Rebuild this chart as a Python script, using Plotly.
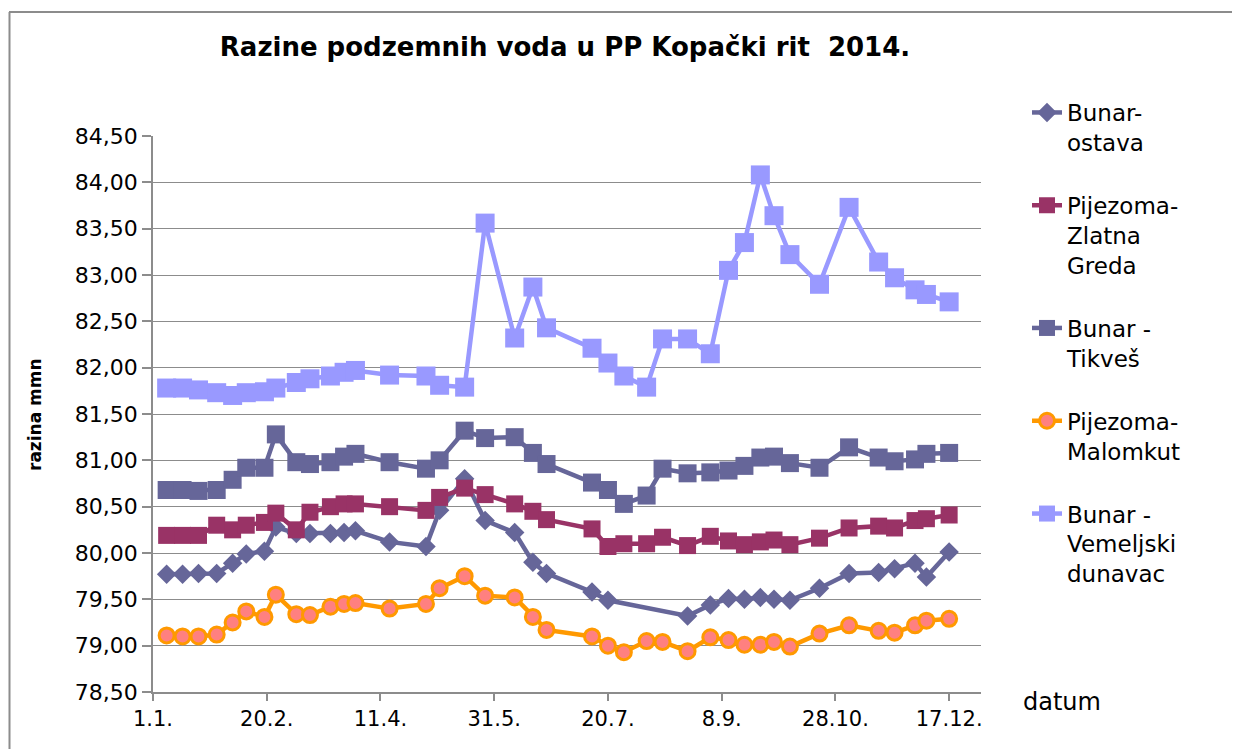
import plotly.graph_objects as go

# Measurement dates (2014)
dates = ["2014-01-07", "2014-01-14", "2014-01-21", "2014-01-29", "2014-02-05", "2014-02-11",
         "2014-02-19", "2014-02-24", "2014-03-05", "2014-03-11", "2014-03-20", "2014-03-26",
         "2014-03-31", "2014-04-15", "2014-05-01", "2014-05-07", "2014-05-18", "2014-05-27",
         "2014-06-09", "2014-06-17", "2014-06-23", "2014-07-13", "2014-07-20", "2014-07-27",
         "2014-08-06", "2014-08-13", "2014-08-24", "2014-09-03", "2014-09-11", "2014-09-18",
         "2014-09-25", "2014-10-01", "2014-10-08", "2014-10-21", "2014-11-03", "2014-11-16",
         "2014-11-23", "2014-12-02", "2014-12-07", "2014-12-17"]

bunar_ostava = [79.77, 79.77, 79.78, 79.78, 79.89, 79.99, 80.02, 80.28, 80.21, 80.21,
                80.21, 80.22, 80.24, 80.12, 80.07, 80.46, 80.80, 80.35, 80.22, 79.90,
                79.78, 79.58, 79.49, None, None, None, 79.32, 79.44, 79.51, 79.50,
                79.52, 79.50, 79.49, 79.62, 79.78, 79.79, 79.83, 79.89, 79.74, 80.01]

zlatna_greda = [80.19, 80.19, 80.19, 80.30, 80.25, 80.30, 80.33, 80.43, 80.25, 80.44,
                80.50, 80.53, 80.53, 80.50, 80.46, 80.60, 80.70, 80.63, 80.53, 80.45,
                80.36, 80.26, 80.07, 80.10, 80.10, 80.17, 80.08, 80.18, 80.13, 80.09,
                80.12, 80.14, 80.09, 80.16, 80.27, 80.29, 80.27, 80.35, 80.37, 80.41]

tikves = [80.68, 80.68, 80.67, 80.68, 80.79, 80.92, 80.92, 81.28, 80.98, 80.96,
          80.98, 81.04, 81.07, 80.98, 80.91, 81.00, 81.32, 81.24, 81.25, 81.08,
          80.96, 80.76, 80.68, 80.53, 80.62, 80.91, 80.86, 80.87, 80.89, 80.94,
          81.03, 81.04, 80.97, 80.92, 81.14, 81.03, 80.99, 81.01, 81.07, 81.08]

malomkut = [79.11, 79.10, 79.10, 79.12, 79.25, 79.37, 79.31, 79.55, 79.34, 79.33,
            79.42, 79.45, 79.46, 79.40, 79.45, 79.62, 79.75, 79.54, 79.52, 79.31,
            79.17, 79.10, 79.00, 78.93, 79.05, 79.04, 78.94, 79.09, 79.06, 79.01,
            79.01, 79.04, 78.99, 79.13, 79.22, 79.16, 79.14, 79.22, 79.27, 79.29]

vemeljski = [81.78, 81.78, 81.76, 81.73, 81.70, 81.73, 81.74, 81.78, 81.84, 81.88,
             81.91, 81.95, 81.97, 81.92, 81.91, 81.81, 81.79, 83.56, 82.32, 82.87,
             82.43, 82.21, 82.05, 81.91, 81.79, 82.31, 82.31, 82.15, 83.05, 83.35,
             84.08, 83.64, 83.22, 82.90, 83.73, 83.14, 82.97, 82.84, 82.79, 82.71]

series_names = ["Bunar-<br>ostava", "Pijezoma-<br>Zlatna<br>Greda", "Bunar -<br>Tikveš",
                "Pijezoma-<br>Malomkut", "Bunar -<br>Vemeljski<br>dunavac"]

tick_dates = ["2014-01-01", "2014-02-20", "2014-04-11", "2014-05-31",
              "2014-07-20", "2014-09-08", "2014-10-28", "2014-12-17"]
tick_labels = ["1.1.", "20.2.", "11.4.", "31.5.", "20.7.", "8.9.", "28.10.", "17.12."]

FONT = "DejaVu Sans"
OFF = 8  # page body margin of the browser
W, H = 1240 - OFF, 749 - OFF
PL, PR, PT, PB = 153 - OFF, 981 - OFF, 136 - OFF, 692 - OFF  # plot area (page pixels minus offset)
PW, PH = PR - PL, PB - PT

fig = go.Figure()
styles = [
    (bunar_ostava, dict(color="#666699", width=4.5), dict(symbol="diamond", size=15, color="#666699")),
    (zlatna_greda, dict(color="#993366", width=4.5), dict(symbol="square", size=17, color="#993366")),
    (tikves, dict(color="#666699", width=4.5), dict(symbol="square", size=18, color="#666699")),
    (malomkut, dict(color="#FF9900", width=4.5),
     dict(symbol="circle", size=15, color="#FF8080", line=dict(color="#FF9900", width=3))),
    (vemeljski, dict(color="#9999FF", width=4.5), dict(symbol="square", size=19, color="#9999FF")),
]
for i, (vals, line, marker) in enumerate(styles):
    fig.add_trace(go.Scatter(
        x=dates, y=vals, mode="lines+markers", name=series_names[i],
        line=line, marker=marker, connectgaps=True, legendgroup=f"g{i}",
    ))

def cx(px):
    return (px - OFF) / W

def cy(py):
    return 1 - (py - OFF) / H

def ppx(px):
    return (px - OFF - PL) / PW

def ppy(py):
    return (PB - (py - OFF)) / PH

fig.update_layout(
    width=W, height=H,
    margin=dict(l=PL, r=W - PR, t=PT, b=H - PB, autoexpand=False),
    paper_bgcolor="white", plot_bgcolor="white",
    separators=", ",
    font=dict(family=FONT, color="black"),
    title=dict(text="<b>Razine podzemnih voda u PP Kopački rit  2014.</b>",
               xref="container", yref="container",
               x=cx(565), xanchor="center", y=cy(47), yanchor="middle",
               font=dict(size=26, family=FONT, color="black")),
    showlegend=True,
    legend=dict(xref="container", yref="container",
                x=cx(1027), xanchor="left", y=cy(91), yanchor="top",
                font=dict(size=23, family=FONT, color="black"),
                valign="top", tracegroupgap=30, traceorder="grouped",
                maxheight=700, bgcolor="rgba(0,0,0,0)"),
    xaxis=dict(type="date", range=["2014-01-01", "2014-12-31"],
               tickvals=tick_dates, ticktext=tick_labels, automargin=False,
               showgrid=False, showline=True, linecolor="#8c8c8c", linewidth=1.5,
               ticks="outside", ticklen=7, tickcolor="#8c8c8c", tickwidth=1.5,
               tickfont=dict(size=21, family=FONT, color="black"), zeroline=False),
    yaxis=dict(range=[78.5, 84.5], dtick=0.5, tick0=78.5, tickformat=".2f", automargin=False,
               showgrid=True, gridcolor="#8c8c8c", gridwidth=1.2,
               showline=True, linecolor="#8c8c8c", linewidth=1.5,
               ticks="outside", ticklen=9, tickcolor="#8c8c8c", tickwidth=1.5,
               tickfont=dict(size=22, family=FONT, color="black"), zeroline=False),
)

# y-axis title
fig.add_annotation(text="<b>razina mmn</b>", xref="paper", yref="paper",
                   x=ppx(35), y=ppy(415), textangle=-90,
                   xanchor="center", yanchor="middle", showarrow=False,
                   font=dict(size=17, family=FONT, color="black"))

# Excel-style "datum" axis label
fig.add_annotation(text="datum", xref="paper", yref="paper",
                   x=ppx(1062), y=ppy(702),
                   xanchor="center", yanchor="middle", showarrow=False,
                   font=dict(size=24, family=FONT, color="black"))

# chart border (left and top edges visible)
fig.add_shape(type="line", xref="paper", yref="paper",
              x0=ppx(9), x1=ppx(1240), y0=ppy(12), y1=ppy(12),
              line=dict(color="#8c8c8c", width=2))
fig.add_shape(type="line", xref="paper", yref="paper",
              x0=ppx(9.5), x1=ppx(9.5), y0=ppy(12), y1=ppy(749),
              line=dict(color="#8c8c8c", width=2))

fig.write_html("out.html")
